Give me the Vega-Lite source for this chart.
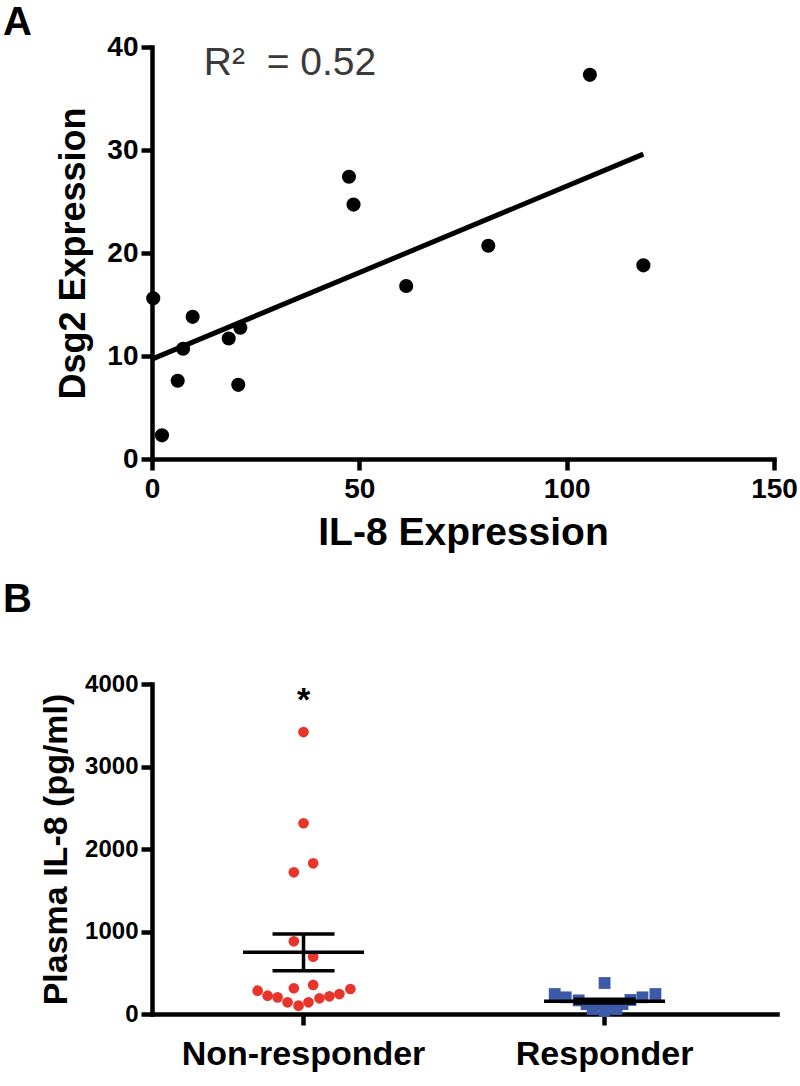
{
  "$schema": "https://vega.github.io/schema/vega-lite/v6.json",
  "background": "white",
  "padding": {"left": 3, "top": 3, "right": 0, "bottom": 5},
  "spacing": 28,
  "config": {
    "view": {"stroke": null},
    "font": "Liberation Sans",
    "axis": {
      "domainColor": "black", "domainWidth": 4.5, "domainCap": "square",
      "tickColor": "black", "tickWidth": 4.5, "tickSize": 11,
      "labelFont": "Liberation Sans", "labelFontWeight": "bold", "labelColor": "black",
      "titleFont": "Liberation Sans", "titleFontWeight": "bold", "titleColor": "black",
      "grid": false, "labelLimit": 0, "labelFlush": false, "labelOverlap": false
    },
    "title": {"font": "Liberation Sans", "fontWeight": "bold", "fontSize": 40, "color": "black", "anchor": "start", "frame": "group"}
  },
  "datasets": {
    "scatter": [
      {"il8": 0.3, "dsg2": 15.6},
      {"il8": 2.4, "dsg2": 2.3},
      {"il8": 6.2, "dsg2": 7.6},
      {"il8": 7.5, "dsg2": 10.7},
      {"il8": 9.8, "dsg2": 13.8},
      {"il8": 18.5, "dsg2": 11.7},
      {"il8": 21.3, "dsg2": 12.75},
      {"il8": 20.8, "dsg2": 7.2},
      {"il8": 47.5, "dsg2": 27.4},
      {"il8": 48.6, "dsg2": 24.7},
      {"il8": 61.3, "dsg2": 16.8},
      {"il8": 81.1, "dsg2": 20.7},
      {"il8": 105.6, "dsg2": 37.3},
      {"il8": 118.5, "dsg2": 18.8}
    ],
    "fit": [
      {"il8": 0, "dsg2": 9.7},
      {"il8": 118.5, "dsg2": 29.6}
    ],
    "annot": [
      {"il8": 12.5, "dsg2": 37.3, "label": "R²\u00a0\u00a0= 0.52"}
    ],
    "plasma": [
      {"group": "Non-responder", "value": 3418, "jitter": 0},
      {"group": "Non-responder", "value": 2312, "jitter": 0},
      {"group": "Non-responder", "value": 1827, "jitter": 0.97},
      {"group": "Non-responder", "value": 1718, "jitter": -0.97},
      {"group": "Non-responder", "value": 881, "jitter": -0.97},
      {"group": "Non-responder", "value": 695, "jitter": 0.97},
      {"group": "Non-responder", "value": 312, "jitter": -0.97},
      {"group": "Non-responder", "value": 352, "jitter": 0.97},
      {"group": "Non-responder", "value": 282, "jitter": -4.6},
      {"group": "Non-responder", "value": 222, "jitter": -3.6},
      {"group": "Non-responder", "value": 202, "jitter": -2.6},
      {"group": "Non-responder", "value": 142, "jitter": -1.6},
      {"group": "Non-responder", "value": 101, "jitter": -0.5},
      {"group": "Non-responder", "value": 142, "jitter": 0.5},
      {"group": "Non-responder", "value": 190, "jitter": 1.6},
      {"group": "Non-responder", "value": 215, "jitter": 2.6},
      {"group": "Non-responder", "value": 242, "jitter": 3.6},
      {"group": "Non-responder", "value": 303, "jitter": 4.7},
      {"group": "Responder", "value": 242, "jitter": -5},
      {"group": "Responder", "value": 202, "jitter": -3.9},
      {"group": "Responder", "value": 165, "jitter": -2.6},
      {"group": "Responder", "value": 376, "jitter": 0},
      {"group": "Responder", "value": 170, "jitter": 2.6},
      {"group": "Responder", "value": 202, "jitter": 3.8},
      {"group": "Responder", "value": 242, "jitter": 5.1},
      {"group": "Responder", "value": 120, "jitter": -1.8},
      {"group": "Responder", "value": 110, "jitter": -0.6},
      {"group": "Responder", "value": 110, "jitter": 0.6},
      {"group": "Responder", "value": 120, "jitter": 1.8},
      {"group": "Responder", "value": 60, "jitter": -1.2},
      {"group": "Responder", "value": 35, "jitter": 0},
      {"group": "Responder", "value": 60, "jitter": 1.2}
    ],
    "summary": [
      {"group": "Non-responder", "mean": 750, "lo": 525, "hi": 970},
      {"group": "Responder", "mean": 155, "lo": 132, "hi": 178}
    ],
    "star": [
      {"group": "Non-responder", "value": 3790, "label": "*"}
    ]
  },
  "vconcat": [
    {
      "width": 622,
      "height": 412,
      "title": {"text": "A", "dx": -149, "offset": -10},
      "layer": [
        {
          "data": {"name": "scatter"},
          "mark": {"type": "circle", "size": 200, "color": "black", "opacity": 1},
          "encoding": {
            "x": {"field": "il8", "type": "quantitative",
              "scale": {"domain": [0, 150], "nice": false},
              "axis": {"values": [0, 50, 100, 150], "title": "IL-8 Expression", "labelFontSize": 28, "titleFontSize": 39, "labelPadding": 5, "titlePadding": 10}},
            "y": {"field": "dsg2", "type": "quantitative",
              "scale": {"domain": [0, 40], "nice": false},
              "axis": {"values": [0, 10, 20, 30, 40], "title": "Dsg2 Expression", "labelFontSize": 28, "titleFontSize": 36, "titlePadding": 14, "labelPadding": 3}}
          }
        },
        {
          "data": {"name": "fit"},
          "mark": {"type": "line", "color": "black", "strokeWidth": 5},
          "encoding": {
            "x": {"field": "il8", "type": "quantitative"},
            "y": {"field": "dsg2", "type": "quantitative"}
          }
        },
        {
          "data": {"name": "annot"},
          "mark": {"type": "text", "align": "left", "baseline": "alphabetic", "fontSize": 39, "color": "#3a3a3a", "font": "Liberation Sans"},
          "encoding": {
            "x": {"field": "il8", "type": "quantitative"},
            "y": {"field": "dsg2", "type": "quantitative"},
            "text": {"field": "label"}
          }
        }
      ]
    },
    {
      "width": 625,
      "height": 330,
      "title": {"text": "B", "dx": -149, "offset": 52},
      "layer": [
        {
          "data": {"name": "plasma"},
          "mark": {"type": "point", "filled": true, "opacity": 1},
          "encoding": {
            "x": {"field": "group", "type": "nominal", "sort": ["Non-responder", "Responder"],
              "scale": {"type": "band", "paddingInner": 0, "paddingOuter": 0.038, "align": 0.043},
              "axis": {"labelAngle": 0, "title": null, "labelFontSize": 34, "labelPadding": 12}},
            "xOffset": {"field": "jitter", "type": "quantitative", "scale": {"domain": [-15.1, 15.1]}},
            "y": {"field": "value", "type": "quantitative",
              "scale": {"domain": [0, 4000], "nice": false},
              "axis": {"values": [0, 1000, 2000, 3000, 4000], "format": "d", "title": "Plasma IL-8 (pg/ml)", "labelFontSize": 24, "titleFontSize": 34, "titlePadding": 11, "labelPadding": 3}},
            "color": {"field": "group", "type": "nominal", "scale": {"domain": ["Non-responder", "Responder"], "range": ["#e8352b", "#3c5aa8"]}, "legend": null},
            "shape": {"field": "group", "type": "nominal", "scale": {"domain": ["Non-responder", "Responder"], "range": ["circle", "square"]}, "legend": null},
            "size": {"field": "group", "type": "nominal", "scale": {"domain": ["Non-responder", "Responder"], "range": [115, 140]}, "legend": null}
          }
        },
        {
          "data": {"name": "summary"},
          "mark": {"type": "tick", "orient": "horizontal", "size": 121, "thickness": 3.5, "color": "black", "opacity": 1},
          "encoding": {
            "x": {"field": "group", "type": "nominal", "sort": ["Non-responder", "Responder"]},
            "y": {"field": "mean", "type": "quantitative"}
          }
        },
        {
          "data": {"name": "summary"},
          "mark": {"type": "tick", "orient": "horizontal", "size": 62, "thickness": 3.5, "color": "black", "opacity": 1},
          "encoding": {
            "x": {"field": "group", "type": "nominal", "sort": ["Non-responder", "Responder"]},
            "y": {"field": "lo", "type": "quantitative"}
          }
        },
        {
          "data": {"name": "summary"},
          "mark": {"type": "tick", "orient": "horizontal", "size": 62, "thickness": 3.5, "color": "black", "opacity": 1},
          "encoding": {
            "x": {"field": "group", "type": "nominal", "sort": ["Non-responder", "Responder"]},
            "y": {"field": "hi", "type": "quantitative"}
          }
        },
        {
          "data": {"name": "summary"},
          "mark": {"type": "rule", "strokeWidth": 3.5, "color": "black"},
          "encoding": {
            "x": {"field": "group", "type": "nominal", "sort": ["Non-responder", "Responder"]},
            "y": {"field": "lo", "type": "quantitative"},
            "y2": {"field": "hi"}
          }
        },
        {
          "data": {"name": "star"},
          "mark": {"type": "text", "fontSize": 34, "fontWeight": "bold", "baseline": "middle", "color": "black", "font": "Liberation Sans"},
          "encoding": {
            "x": {"field": "group", "type": "nominal", "sort": ["Non-responder", "Responder"]},
            "y": {"field": "value", "type": "quantitative"},
            "text": {"field": "label"}
          }
        }
      ]
    }
  ]
}
